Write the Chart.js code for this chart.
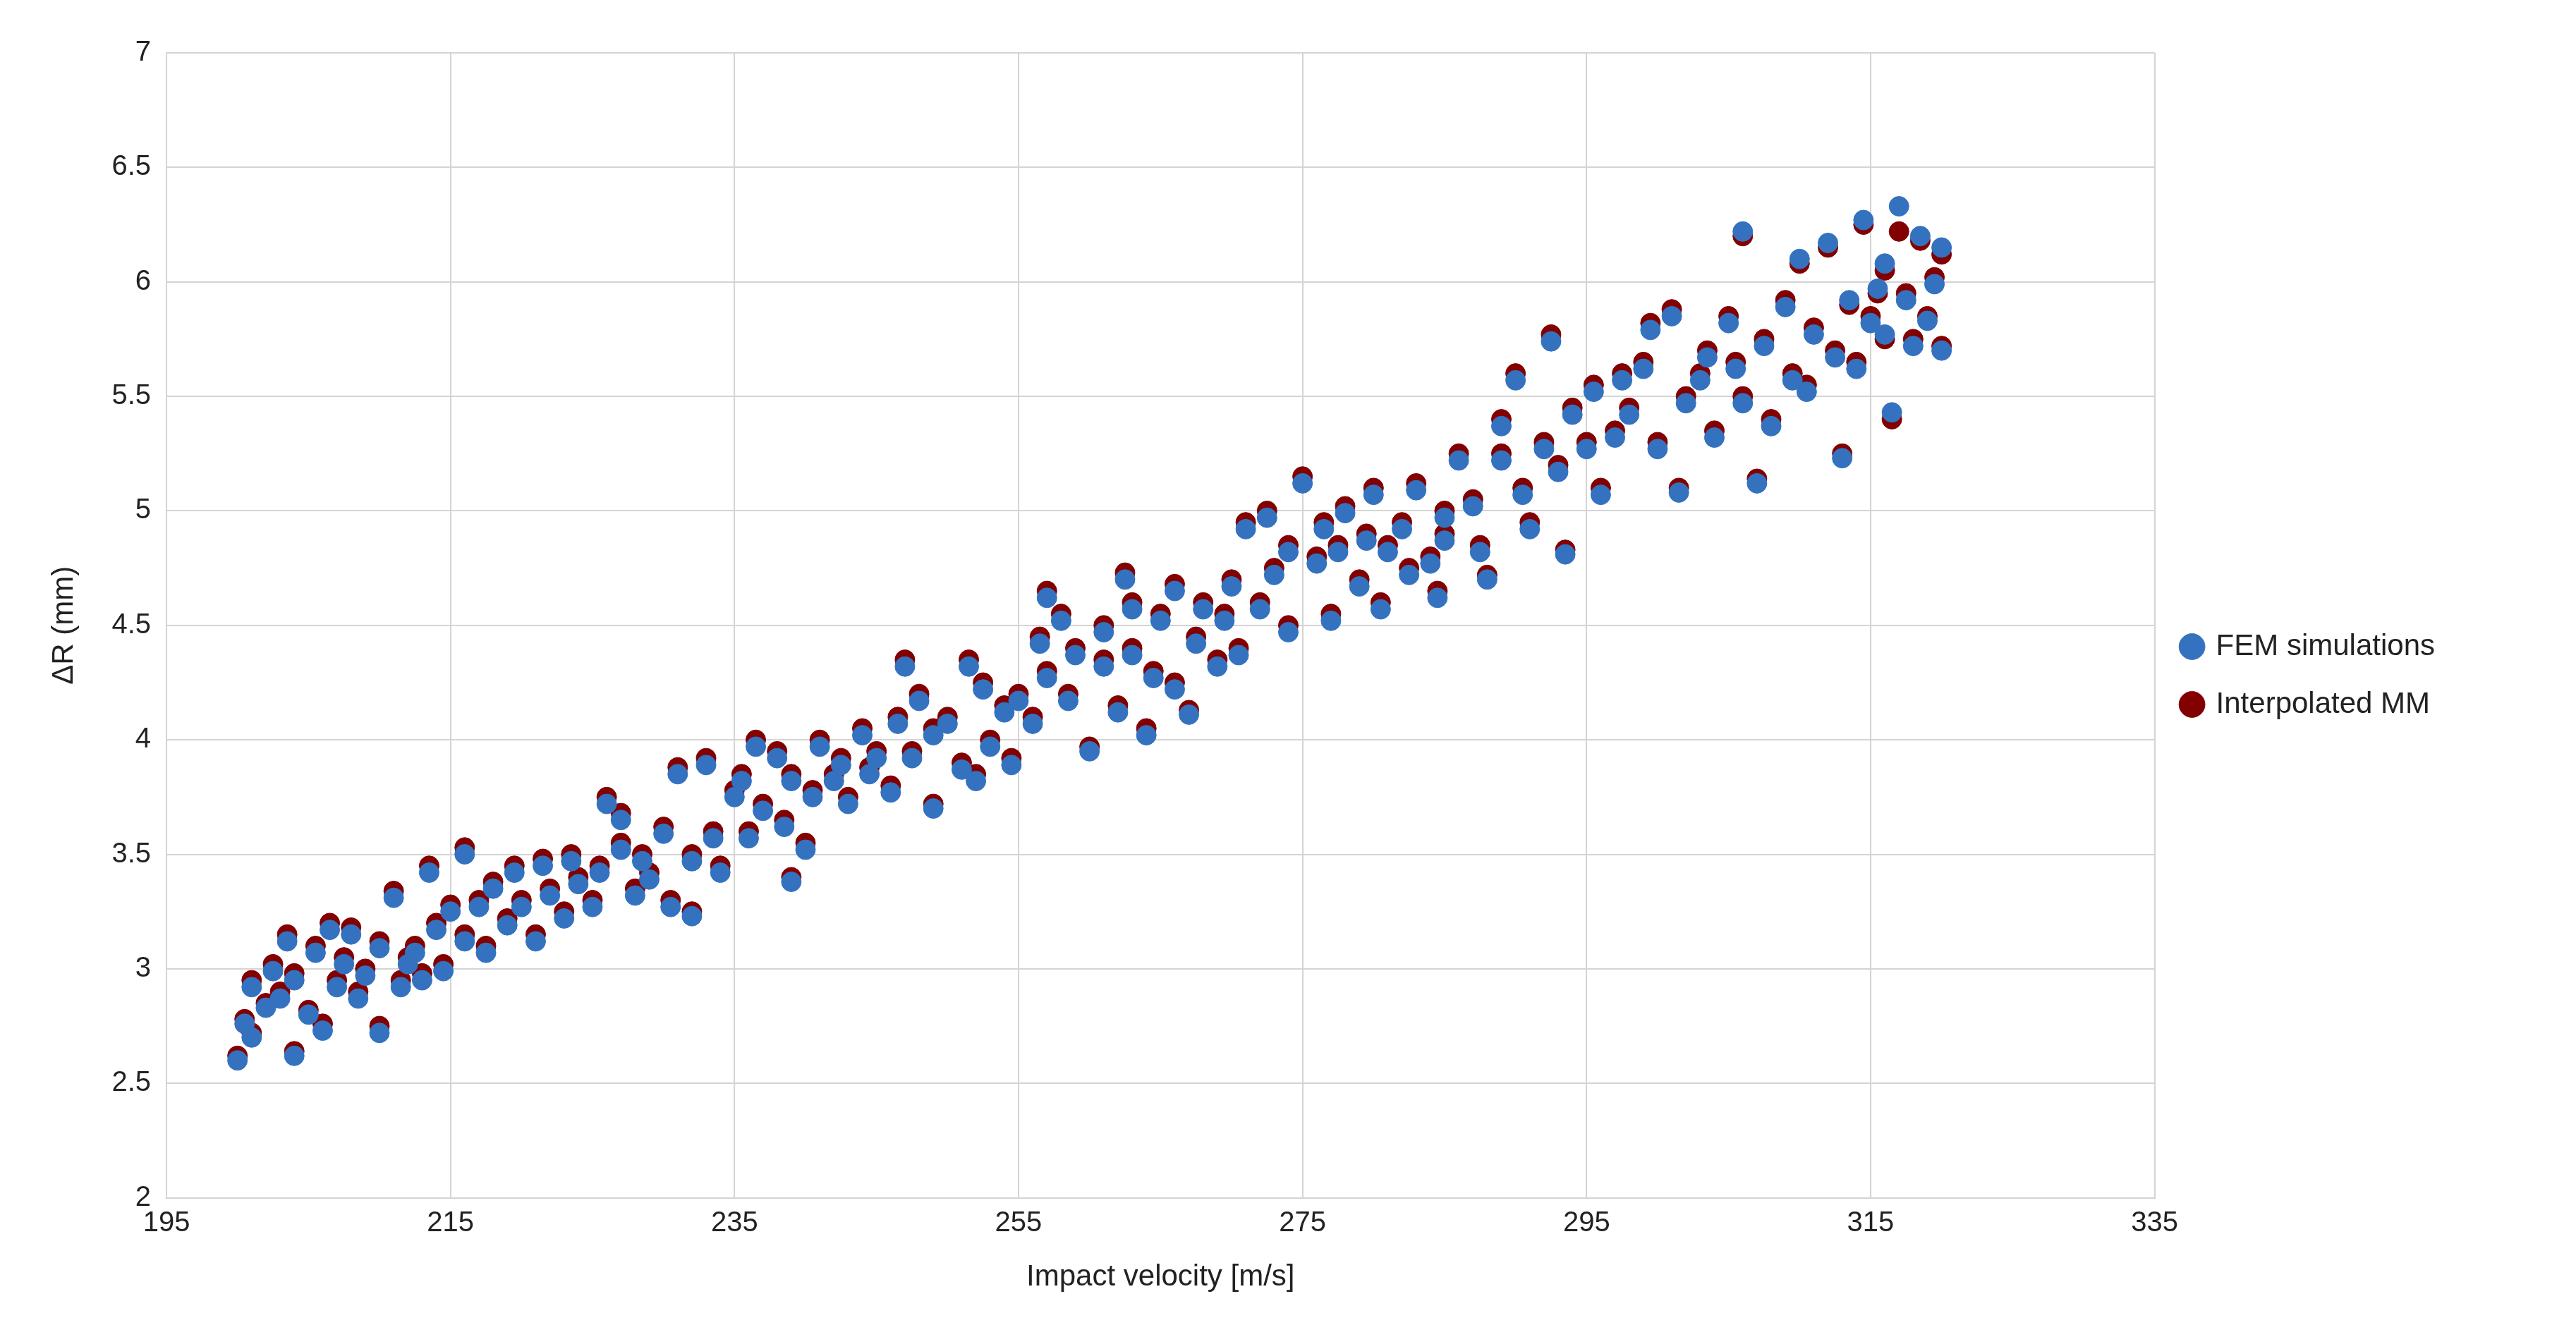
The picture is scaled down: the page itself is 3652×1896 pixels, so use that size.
<!DOCTYPE html>
<html><head><meta charset="utf-8">
<script src="https://cdn.jsdelivr.net/npm/chart.js@4"></script>
<style>html,body{margin:0;padding:0;background:#fff}#wrap{width:3652px;height:1896px}</style>
</head><body><div id="wrap"><canvas id="c"></canvas></div>
<script>
const velocity = [200,200.5,201,201,202,202.5,203,203.5,204,204,205,205.5,206,206.5,207,207.5,208,208.5,209,210,210,211,211.5,212,212.5,213,213.5,214,214.5,215,216,216,217,217.5,218,219,219.5,220,221,221.5,222,223,223.5,224,225,225.5,226,227,227,228,228.5,229,230,230.5,231,232,232,233,233.5,234,235,235.5,236,236.5,237,238,238.5,239,239,240,240.5,241,242,242.5,243,244,244.5,245,246,246.5,247,247.5,248,249,249,250,251,251.5,252,252.5,253,254,254.5,255,256,256.5,257,257,258,258.5,259,260,261,261,262,262.5,263,263,264,264.5,265,266,266,267,267.5,268,269,269.5,270,270.5,271,272,272.5,273,274,274,275,276,276.5,277,277.5,278,279,279.5,280,280.5,281,282,282.5,283,284,284.5,285,285,286,287,287.5,288,289,289,290,290.5,291,292,292.5,293,293.5,294,295,295.5,296,297,297.5,298,299,299.5,300,301,301.5,302,303,303.5,304,305,305.5,306,306,307,307.5,308,309,309.5,310,310.5,311,312,312.5,313,313.5,314,314.5,315,315.5,316,316,316.5,317,317.5,318,318.5,319,319.5,320,320];
const interpolatedMM = [2.62,2.78,2.95,2.72,2.85,3.02,2.9,3.15,2.64,2.98,2.82,3.1,2.76,3.2,2.95,3.05,3.18,2.9,3.0,2.75,3.12,3.34,2.95,3.05,3.1,2.98,3.45,3.2,3.02,3.28,3.53,3.15,3.3,3.1,3.38,3.22,3.45,3.3,3.15,3.48,3.35,3.25,3.5,3.4,3.3,3.45,3.75,3.55,3.68,3.35,3.5,3.42,3.62,3.3,3.88,3.25,3.5,3.92,3.6,3.45,3.78,3.85,3.6,4.0,3.72,3.95,3.65,3.4,3.85,3.55,3.78,4.0,3.85,3.92,3.75,4.05,3.88,3.95,3.8,4.1,4.35,3.95,4.2,3.72,4.05,4.1,3.9,4.35,3.85,4.25,4.0,4.15,3.92,4.2,4.1,4.45,4.65,4.3,4.55,4.2,4.4,3.97,4.35,4.5,4.15,4.73,4.4,4.6,4.05,4.3,4.55,4.25,4.68,4.13,4.45,4.6,4.35,4.55,4.7,4.4,4.95,4.6,5.0,4.75,4.85,4.5,5.15,4.8,4.95,4.55,4.85,5.02,4.7,4.9,5.1,4.6,4.85,4.95,4.75,5.12,4.8,4.65,5.0,4.9,5.25,5.05,4.85,4.72,5.4,5.25,5.6,5.1,4.95,5.3,5.77,5.2,4.83,5.45,5.3,5.55,5.1,5.35,5.6,5.45,5.65,5.82,5.3,5.88,5.1,5.5,5.6,5.7,5.35,5.85,5.65,5.5,6.2,5.14,5.75,5.4,5.92,5.6,6.08,5.55,5.8,6.15,5.7,5.25,5.9,5.65,6.25,5.85,5.95,6.05,5.75,5.4,6.22,5.95,5.75,6.18,5.85,6.02,5.72,6.12,5.62,6.22];
const femSimulations = [2.6,2.76,2.92,2.7,2.83,2.99,2.87,3.12,2.62,2.95,2.8,3.07,2.73,3.17,2.92,3.02,3.15,2.87,2.97,2.72,3.09,3.31,2.92,3.02,3.07,2.95,3.42,3.17,2.99,3.25,3.5,3.12,3.27,3.07,3.35,3.19,3.42,3.27,3.12,3.45,3.32,3.22,3.47,3.37,3.27,3.42,3.72,3.52,3.65,3.32,3.47,3.39,3.59,3.27,3.85,3.23,3.47,3.89,3.57,3.42,3.75,3.82,3.57,3.97,3.69,3.92,3.62,3.38,3.82,3.52,3.75,3.97,3.82,3.89,3.72,4.02,3.85,3.92,3.77,4.07,4.32,3.92,4.17,3.7,4.02,4.07,3.87,4.32,3.82,4.22,3.97,4.12,3.89,4.17,4.07,4.42,4.62,4.27,4.52,4.17,4.37,3.95,4.32,4.47,4.12,4.7,4.37,4.57,4.02,4.27,4.52,4.22,4.65,4.11,4.42,4.57,4.32,4.52,4.67,4.37,4.92,4.57,4.97,4.72,4.82,4.47,5.12,4.77,4.92,4.52,4.82,4.99,4.67,4.87,5.07,4.57,4.82,4.92,4.72,5.09,4.77,4.62,4.97,4.87,5.22,5.02,4.82,4.7,5.37,5.22,5.57,5.07,4.92,5.27,5.74,5.17,4.81,5.42,5.27,5.52,5.07,5.32,5.57,5.42,5.62,5.79,5.27,5.85,5.08,5.47,5.57,5.67,5.32,5.82,5.62,5.47,6.22,5.12,5.72,5.37,5.89,5.57,6.1,5.52,5.77,6.17,5.67,5.23,5.92,5.62,6.27,5.82,5.97,6.08,5.77,5.43,6.33,5.92,5.72,6.2,5.83,5.99,5.7,6.15,5.69,6.28];
const xTicks = {min:195,max:335,step:20};
const yTicks = {min:2,max:7,step:0.5};

const toPts = ys => ys.map((y,i)=>({x:velocity[i],y}));
const FONT = 'Liberation Sans, Arial, sans-serif';
new Chart(document.getElementById('c'),{
  type:'scatter',
  data:{datasets:[
    {label:'FEM simulations',data:toPts(femSimulations),backgroundColor:'#3472c0',borderColor:'#3472c0',pointRadius:14,pointHoverRadius:14},
    {label:'Interpolated MM',data:toPts(interpolatedMM),backgroundColor:'#820000',borderColor:'#820000',pointRadius:14,pointHoverRadius:14}
  ]},
  options:{
    responsive:true,maintainAspectRatio:false,animation:false,devicePixelRatio:1,
    layout:{padding:{left:62,right:190,top:75,bottom:55}},
    plugins:{
      legend:{position:'right',labels:{usePointStyle:true,pointStyle:'circle',boxWidth:26,boxHeight:26,padding:40,color:'#222',font:{family:FONT,size:42}}},
      tooltip:{enabled:false}
    },
    scales:{
      x:{type:'linear',min:xTicks.min,max:xTicks.max,ticks:{stepSize:xTicks.step,color:'#222',font:{family:FONT,size:40},padding:12},
         grid:{color:'#d4d4d4',lineWidth:2,drawTicks:false},border:{color:'#d4d4d4',width:2},
         title:{display:true,text:'Impact velocity [m/s]',color:'#222',font:{family:FONT,size:42},padding:{top:16}}},
      y:{min:yTicks.min,max:yTicks.max,ticks:{stepSize:yTicks.step,color:'#222',font:{family:FONT,size:40},padding:22,callback:v=>String(v)},
         grid:{color:'#d4d4d4',lineWidth:2,drawTicks:false},border:{color:'#d4d4d4',width:2},
         title:{display:true,text:'ΔR (mm)',color:'#222',font:{family:FONT,size:42},padding:{bottom:20}}}
    }
  }
});
</script></body></html>
